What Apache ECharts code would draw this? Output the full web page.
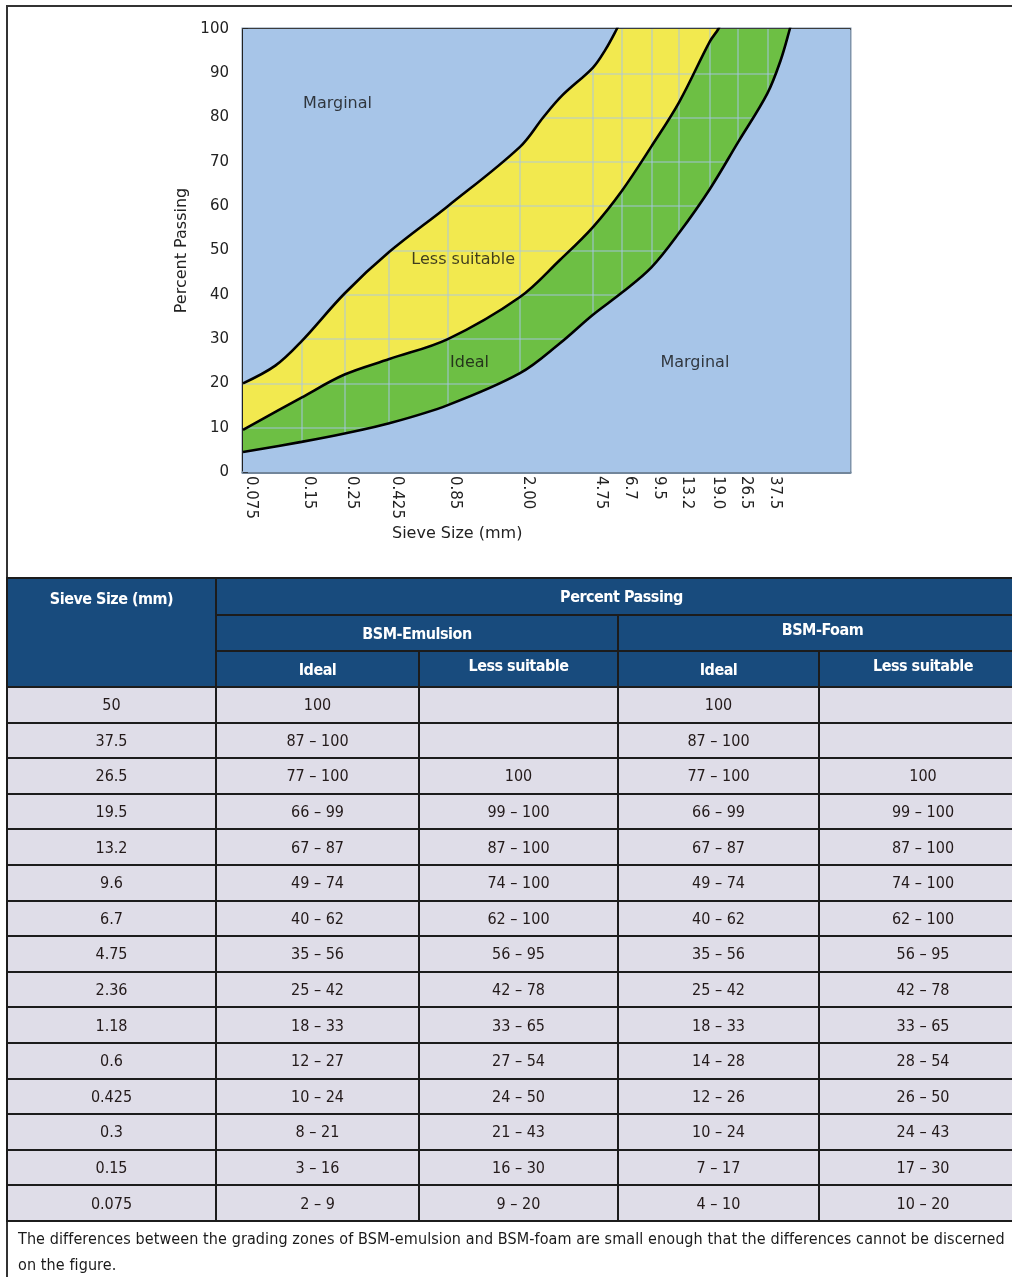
<!DOCTYPE html>
<html>
<head>
<meta charset="utf-8">
<script src="https://cdn.jsdelivr.net/npm/echarts@6/dist/echarts.min.js"></script>
<style>
  html, body { margin: 0; padding: 0; background: #fff; overflow: hidden; }
  #page { position: relative; width: 1012px; height: 1277px; overflow: hidden; }
  #chart { position: absolute; left: 0; top: 0; width: 1012px; height: 577px; }
  .frame-top { position: absolute; left: 6px; top: 5px; width: 1020px; height: 2px; background: #333; }
  .frame-left { position: absolute; left: 6px; top: 5px; width: 2px; height: 1290px; background: #333; }
  #grading {
    position: absolute; left: 6px; top: 577px; width: 1020px;
    border-collapse: collapse; table-layout: fixed;
    font-family: "Liberation Sans Narrow", "DejaVu Sans Condensed", "Roboto", sans-serif;
    font-size: 16px; color: #231a1a;
  }
  #grading td, #grading th { border: 2px solid #1c1c1c; text-align: center; padding: 0; }
  #grading th { background: #184b7d; color: #fff; font-weight: bold; font-size: 16px; letter-spacing: -0.5px; }
  #grading td { background: #dfdde8; height: 33.6px; }
  #grading th.top { vertical-align: top; }
  .note {
    position: absolute; left: 18px; top: 1226px; width: 1100px; margin: 0; white-space: nowrap;
    font-family: "Liberation Sans Narrow", "DejaVu Sans Condensed", sans-serif;
    font-size: 16px; line-height: 26px; color: #1a1a1a; letter-spacing: 0.1px;
  }
</style>
</head>
<body>
<div id="page">
  <div id="chart"></div>
  <div class="frame-top"></div>
  <div class="frame-left"></div>
  <table id="grading"></table>
  <p class="note">The differences between the grading zones of BSM-emulsion and BSM-foam are small enough that the differences cannot be discerned<br>on the figure.</p>
</div>
<script>
// sieve sizes on the log x axis
var sieveTicks = [0.075, 0.15, 0.25, 0.425, 0.85, 2.00, 4.75, 6.7, 9.5, 13.2, 19.0, 26.5, 37.5];
var sieveTickLabels = ['0.075', '0.15', '0.25', '0.425', '0.85', '2.00', '4.75', '6.7', '9.5', '13.2', '19.0', '26.5', '37.5'];
var percentTicks = [10, 20, 30, 40, 50, 60, 70, 80, 90];

// boundary curves (size mm, percent passing).
// the last points run just past the top edge so the plot clips them there.
var lessUpperSize = [0.075, 0.11, 0.15, 0.25, 0.425, 0.85, 2.0, 2.65, 3.3, 4.75, 5.5, 6.3, 7.2, 100];
var lessUpperPct = [20, 24, 29.5, 40.3, 49.7, 60, 73.4, 80.2, 85, 91.3, 95.3, 100, 105, 105];
var idealUpperSize = [0.075, 0.15, 0.25, 0.425, 0.85, 2.0, 3.2, 4.75, 6.7, 9.5, 13.2, 19.0, 21, 24, 100];
var idealUpperPct = [9.5, 16.8, 22, 25.5, 30, 39.5, 47.8, 55.3, 63.5, 73.5, 83.5, 97.2, 100, 105, 105];
var idealLowerSize = [0.075, 0.15, 0.25, 0.425, 0.85, 2.0, 3.2, 4.75, 6.7, 9.5, 13.2, 19.0, 26.5, 37.5, 44, 49, 52.6, 100];
var idealLowerPct = [4.5, 6.8, 8.7, 11, 15.1, 22.3, 29, 35.5, 40.5, 46.2, 54, 63.9, 74.4, 85.4, 93, 100, 105, 105];

// zone names placed in data space
var zoneNames = ['Marginal', 'Less suitable', 'Ideal', 'Marginal'];
var zoneSize = [0.23, 1.02, 1.1, 15.9];
var zonePct = [83, 48, 24.6, 24.6];

// table
var tableSieve = ['50', '37.5', '26.5', '19.5', '13.2', '9.6', '6.7', '4.75', '2.36', '1.18', '0.6', '0.425', '0.3', '0.15', '0.075'];
var emulsionIdeal = ['100', '87 – 100', '77 – 100', '66 – 99', '67 – 87', '49 – 74', '40 – 62', '35 – 56', '25 – 42', '18 – 33', '12 – 27', '10 – 24', '8 – 21', '3 – 16', '2 – 9'];
var emulsionLess = ['', '', '100', '99 – 100', '87 – 100', '74 – 100', '62 – 100', '56 – 95', '42 – 78', '33 – 65', '27 – 54', '24 – 50', '21 – 43', '16 – 30', '9 – 20'];
var foamIdeal = ['100', '87 – 100', '77 – 100', '66 – 99', '67 – 87', '49 – 74', '40 – 62', '35 – 56', '25 – 42', '18 – 33', '14 – 28', '12 – 26', '10 – 24', '7 – 17', '4 – 10'];
var foamLess = ['', '', '100', '99 – 100', '87 – 100', '74 – 100', '62 – 100', '56 – 95', '42 – 78', '33 – 65', '28 – 54', '26 – 50', '24 – 43', '17 – 30', '10 – 20'];

var BLUE = '#a7c5e8', YELLOW = '#f2e94f', GREEN = '#6dbf44';

function pairs(xs, ys) {
    return xs.map(function(x, i) { return [x, ys[i]]; });
}
var lessUpper = pairs(lessUpperSize, lessUpperPct);
var idealUpper = pairs(idealUpperSize, idealUpperPct);
var idealLower = pairs(idealLowerSize, idealLowerPct);

function fill(data, color, origin, z) {
    return {
        type: 'line', data: data, smooth: 0.35, showSymbol: false, silent: true, z: z,
        lineStyle: { width: 0 },
        areaStyle: { color: color, opacity: 1, origin: origin }
    };
}
function curve(data) {
    return {
        type: 'line', data: data, smooth: 0.35, showSymbol: false, silent: true, z: 6,
        lineStyle: { color: '#000', width: 2.6 }
    };
}

var gridMarks = sieveTicks.slice(1).map(function(v) { return { xAxis: v }; })
    .concat(percentTicks.map(function(v) { return { yAxis: v }; }));

var chart = echarts.init(document.getElementById('chart'));
var option = {
    animation: false,
    textStyle: { fontFamily: 'DejaVu Sans' },
    grid: {
        left: 243, top: 29, right: 162, bottom: 105,
        show: true, backgroundColor: BLUE, borderColor: '#7f94ab', borderWidth: 3,
        outerBoundsMode: 'none'
    },
    xAxis: [{
        type: 'log', min: 0.075, max: 100, position: 'bottom',
        splitLine: { show: false },
        axisLine: { lineStyle: { color: '#72869b', width: 3 } },
        axisTick: { show: false },
        axisLabel: {
            customValues: sieveTicks, rotate: -90, margin: 4,
            color: '#222', fontSize: 15, verticalAlign: 'bottom',
            formatter: function(v) {
                var i = sieveTicks.indexOf(v);
                return i >= 0 ? sieveTickLabels[i] : '';
            }
        }
    }, {
        type: 'log', min: 0.075, max: 100, position: 'top',
        axisLine: { lineStyle: { color: '#3c3c3c', width: 2 } },
        axisTick: { show: false }, axisLabel: { show: false }, splitLine: { show: false }
    }],
    yAxis: {
        type: 'value', min: 0, max: 100, interval: 10,
        name: 'Percent Passing', nameLocation: 'middle', nameGap: 53, nameRotate: 90,
        nameTextStyle: { color: '#222', fontSize: 16 },
        splitLine: { show: false },
        axisLine: { show: true, lineStyle: { color: '#222', width: 2 } },
        axisTick: { show: true, inside: true, length: 5, lineStyle: { color: '#222', width: 1.5 } },
        axisLabel: { color: '#222', fontSize: 15, margin: 14 }
    },
    graphic: [{
        type: 'text', left: 392, top: 526,
        style: { text: 'Sieve Size (mm)', fill: '#222', font: '16px "DejaVu Sans"' }
    }],
    series: [
        fill(lessUpper, YELLOW, 'start', 1),
        fill(idealUpper, GREEN, 'start', 2),
        {
            type: 'line', data: [[0.075, 0]], showSymbol: false, silent: true, z: 3,
            lineStyle: { opacity: 0 },
            markLine: {
                silent: true, symbol: 'none', label: { show: false },
                lineStyle: { type: 'solid', width: 1.6, color: 'rgba(167,197,232,0.6)' },
                data: gridMarks
            }
        },
        fill(idealLower, BLUE, 'start', 4),
        fill(lessUpper, BLUE, 'end', 4),
        curve(lessUpper),
        curve(idealUpper),
        curve(idealLower),
        {
            type: 'scatter', symbolSize: 0, silent: true, z: 7,
            data: zoneNames.map(function(n, i) { return { name: n, value: [zoneSize[i], zonePct[i]] }; }),
            label: {
                show: true, position: 'inside', formatter: '{b}',
                color: '#111', fontSize: 16, textBorderWidth: 0
            }
        }
    ]
};
chart.setOption(option);

// grading table
var tbl = document.getElementById('grading');
var html = '<colgroup><col style="width:209px"><col style="width:203px"><col style="width:199px"><col style="width:201px"><col style="width:208px"></colgroup>';
html += '<tr style="height:37px"><th rowspan="3" class="top" style="padding-top:10px">Sieve Size (mm)</th><th colspan="4">Percent Passing</th></tr>';
html += '<tr style="height:36px"><th colspan="2">BSM-Emulsion</th><th colspan="2" class="top" style="padding-top:4px">BSM-Foam</th></tr>';
html += '<tr style="height:36px"><th>Ideal</th><th class="top" style="padding-top:4px">Less suitable</th><th>Ideal</th><th class="top" style="padding-top:4px">Less suitable</th></tr>';
for (var i = 0; i < tableSieve.length; i++) {
    html += '<tr><td>' + tableSieve[i] + '</td><td>' + emulsionIdeal[i] + '</td><td>' + emulsionLess[i] +
        '</td><td>' + foamIdeal[i] + '</td><td>' + foamLess[i] + '</td></tr>';
}
tbl.innerHTML = html;
</script>
</body>
</html>
